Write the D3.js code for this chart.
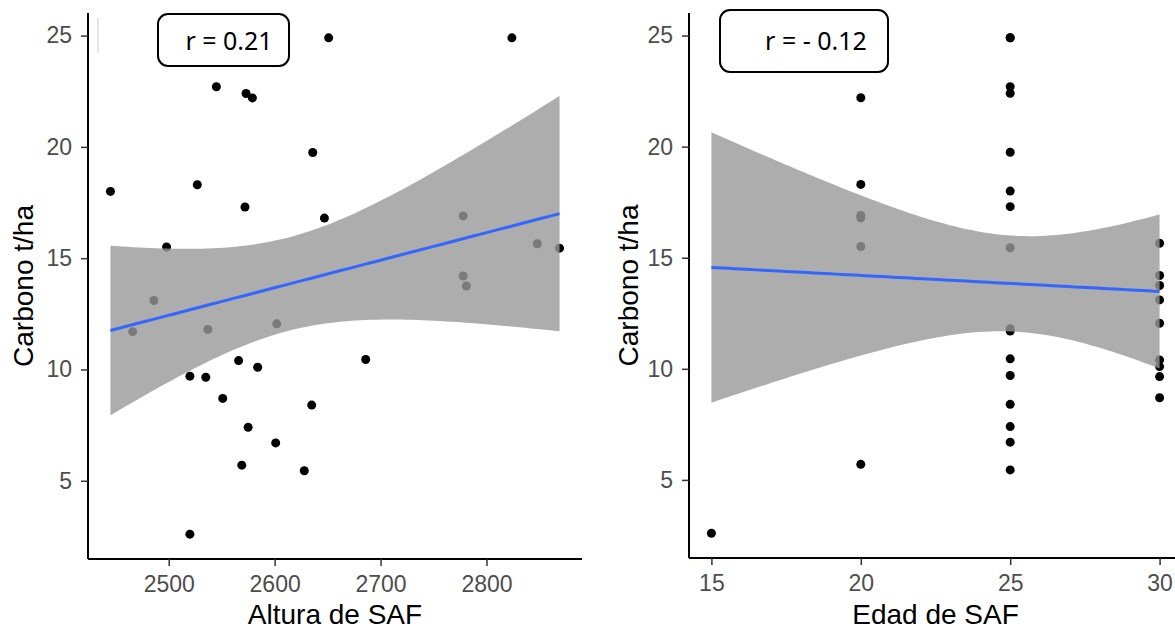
<!DOCTYPE html>
<html>
<head>
<meta charset="utf-8">
<script src="https://cdn.jsdelivr.net/npm/d3@7"></script>
<style>
  body { margin: 0; background: #fff; }
  svg { display: block; }
  .tick text { font-family: "Liberation Sans", Arial, sans-serif; fill: #4d4d4d; }
  .tick line { stroke: #333; stroke-width: 1.5; }
  .domain { stroke: #000; stroke-width: 2; }
</style>
</head>
<body>
<div id="chart"><svg></svg></div>
<script>
// one row per SAF plot
const altura = [2520, 2628, 2569, 2601, 2575, 2635, 2551, 2520, 2535, 2584, 2566, 2686, 2466, 2537, 2602, 2486,
                2781, 2778, 2869, 2498, 2848, 2647, 2778, 2572, 2445, 2527, 2636, 2579, 2573, 2545, 2651, 2824];
const edad = [15, 25, 20, 25, 25, 25, 30, 25, 30, 30, 30, 25, 25, 25, 30, 30,
              30, 30, 25, 20, 30, 20, 20, 25, 25, 20, 25, 20, 25, 25, 25, 25];
const carbono = [2.6, 5.45, 5.7, 6.7, 7.4, 8.4, 8.7, 9.7, 9.65, 10.1, 10.4, 10.45, 11.7, 11.8, 12.05, 13.1,
                 13.75, 14.2, 15.45, 15.5, 15.65, 16.8, 16.9, 17.3, 18.0, 18.3, 19.75, 22.2, 22.4, 22.7, 24.9, 24.9];

const alturaTicks = [2500, 2600, 2700, 2800];
const edadTicks = [15, 20, 25, 30];
const carbonoTicks = [5, 10, 15, 20, 25];
const rLabels = ["r = 0.21", "r = - 0.12"];

const T975 = 2.042; // t quantile, df = 30

const width = 1175, height = 631;
const svg = d3.select("#chart > svg").attr("width", width).attr("height", height);

// ggplot style 5% expansion
function expand(ext) {
  const pad = (ext[1] - ext[0]) * 0.05;
  return [ext[0] - pad, ext[1] + pad];
}

function lmFit(xs, ys) {
  const n = xs.length;
  const mx = d3.mean(xs), my = d3.mean(ys);
  let sxx = 0, sxy = 0;
  xs.forEach((x, i) => { sxx += (x - mx) ** 2; sxy += (x - mx) * (ys[i] - my); });
  const b = sxy / sxx, a = my - b * mx;
  let sse = 0;
  xs.forEach((x, i) => { sse += (ys[i] - a - b * x) ** 2; });
  const s = Math.sqrt(sse / (n - 2));
  const ext = d3.extent(xs);
  const pts = d3.range(80).map(k => {
    const x0 = ext[0] + (ext[1] - ext[0]) * k / 79;
    const fit = a + b * x0;
    const se = s * Math.sqrt(1 / n + (x0 - mx) ** 2 / sxx);
    return { x: x0, fit: fit, lo: fit - T975 * se, hi: fit + T975 * se };
  });
  return pts;
}

function panel(opts) {
  const { xs, xTicks, xTitle, left, right, top, bottom, yTitleX, label, box } = opts;

  const x = d3.scaleLinear().domain(expand(d3.extent(xs))).range([left, right]);
  const y = d3.scaleLinear().domain(expand(d3.extent(carbono))).range([bottom, top]);

  const g = svg.append("g");

  // points first, ribbon drawn over them like geom_smooth
  g.append("g")
    .selectAll("circle")
    .data(xs.map((v, i) => [v, carbono[i]]))
    .join("circle")
    .attr("cx", d => x(d[0]))
    .attr("cy", d => y(d[1]))
    .attr("r", 4.5)
    .attr("fill", "#000");

  const fit = lmFit(xs, carbono);

  g.append("path")
    .datum(fit)
    .attr("fill", "#999999")
    .attr("fill-opacity", 0.8)
    .attr("d", d3.area().x(d => x(d.x)).y0(d => y(d.lo)).y1(d => y(d.hi)));

  g.append("path")
    .datum(fit)
    .attr("fill", "none")
    .attr("stroke", "#3366ff")
    .attr("stroke-width", 3)
    .attr("d", d3.line().x(d => x(d.x)).y(d => y(d.fit)));

  g.append("g")
    .attr("transform", `translate(0, ${bottom})`)
    .call(d3.axisBottom(x).tickValues(xTicks).tickFormat(d3.format("d"))
      .tickSize(7).tickSizeOuter(0).tickPadding(10))
    .call(a => a.selectAll(".tick text").attr("font-size", 23))
    .call(a => a.select(".domain").attr("d", `M${left},0H${right}`));

  g.append("g")
    .attr("transform", `translate(${left}, 0)`)
    .call(d3.axisLeft(y).tickValues(carbonoTicks).tickFormat(d3.format("d"))
      .tickSize(7).tickSizeOuter(0).tickPadding(9))
    .call(a => a.selectAll(".tick text").attr("font-size", 23))
    .call(a => a.select(".domain").attr("d", `M0,${top}V${bottom}`));

  g.append("text")
    .attr("x", (left + right) / 2)
    .attr("y", 624)
    .attr("text-anchor", "middle")
    .attr("font-family", "Liberation Sans, Arial, sans-serif")
    .attr("font-size", 28)
    .text(xTitle);

  g.append("text")
    .attr("transform", `translate(${yTitleX}, ${(top + bottom) / 2}) rotate(-90)`)
    .attr("text-anchor", "middle")
    .attr("font-family", "Liberation Sans, Arial, sans-serif")
    .attr("font-size", 28)
    .text("Carbono t/ha");

  // correlation label box
  g.append("rect")
    .attr("x", box[0]).attr("y", box[1])
    .attr("width", box[2] - box[0]).attr("height", box[3] - box[1])
    .attr("rx", 10)
    .attr("fill", "#fff")
    .attr("stroke", "#000")
    .attr("stroke-width", 2);

  g.append("text")
    .attr("x", box[4])
    .attr("y", 50)
    .attr("text-anchor", "middle")
    .attr("font-family", "Noto Sans, sans-serif")
    .attr("font-size", 25)
    .text(label);
}

panel({
  xs: altura, xTicks: alturaTicks, xTitle: "Altura de SAF",
  left: 88, right: 582, top: 13, bottom: 559, yTitleX: 33,
  label: rLabels[0], box: [158, 14, 289, 66, 229]
});

panel({
  xs: edad, xTicks: edadTicks, xTitle: "Edad de SAF",
  left: 689, right: 1182, top: 13, bottom: 558, yTitleX: 638,
  label: rLabels[1], box: [720, 10, 888, 72, 816]
});

// faint artefact line in the left panel
svg.append("line")
  .attr("x1", 98).attr("x2", 98).attr("y1", 18).attr("y2", 53)
  .attr("stroke", "#ccc").attr("stroke-width", 1);
</script>
</body>
</html>
